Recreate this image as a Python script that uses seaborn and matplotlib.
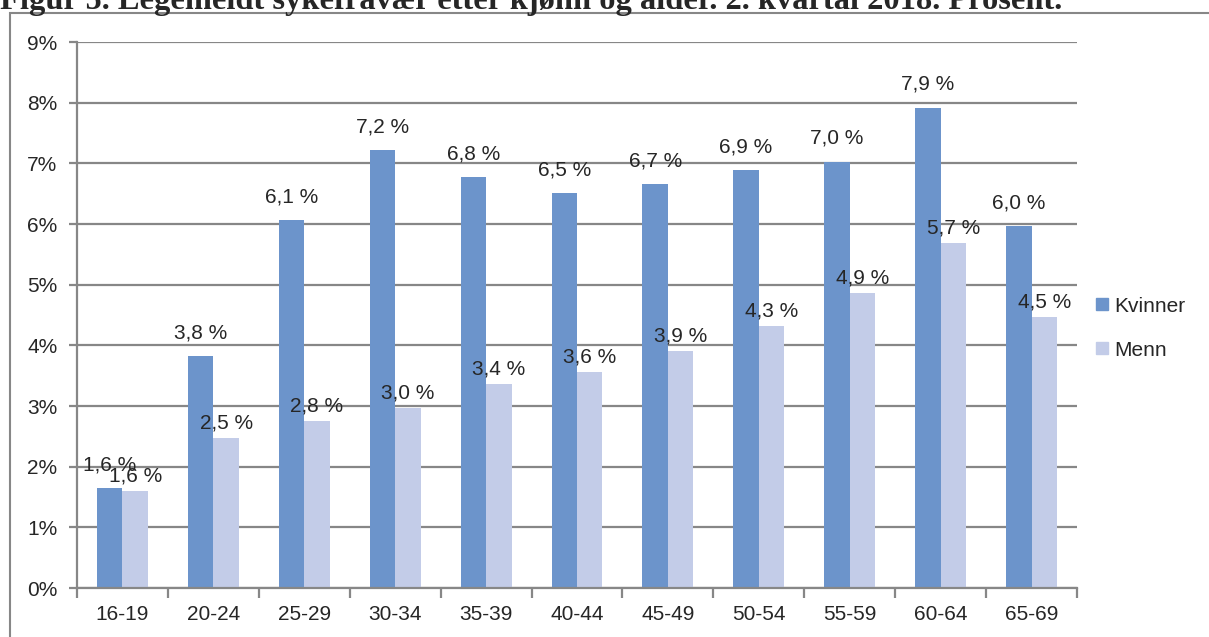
import numpy as np
import pandas as pd
import seaborn as sns
import matplotlib.pyplot as plt
from matplotlib.patches import Rectangle, Patch
from matplotlib.ticker import FixedLocator

alder = ["16-19", "20-24", "25-29", "30-34", "35-39", "40-44",
         "45-49", "50-54", "55-59", "60-64", "65-69"]
kvinner = [1.65, 3.82, 6.06, 7.22, 6.77, 6.51, 6.66, 6.89, 7.03, 7.92, 5.96]
menn = [1.60, 2.47, 2.76, 2.97, 3.36, 3.56, 3.91, 4.32, 4.86, 5.68, 4.46]
kvinner_lbl = ["1,6 %", "3,8 %", "6,1 %", "7,2 %", "6,8 %", "6,5 %",
               "6,7 %", "6,9 %", "7,0 %", "7,9 %", "6,0 %"]
menn_lbl = ["1,6 %", "2,5 %", "2,8 %", "3,0 %", "3,4 %", "3,6 %",
            "3,9 %", "4,3 %", "4,9 %", "5,7 %", "4,5 %"]

df = pd.DataFrame({"alder": alder * 2,
                   "verdi": kvinner + menn,
                   "kjonn": ["Kvinner"] * len(alder) + ["Menn"] * len(alder)})

sns.set_style("white")
plt.rcParams["font.family"] = ["Liberation Sans", "DejaVu Sans"]

farger = {"Kvinner": "#6C94CB", "Menn": "#C3CCE8"}
grid_col = "#878787"
fs = 15

fig = plt.figure(figsize=(12.09, 6.37), dpi=100)
ax = fig.add_axes([77 / 1209, 1 - 588 / 637, 1000 / 1209, 546 / 637])

sns.barplot(data=df, x="alder", y="verdi", hue="kjonn", palette=farger,
            width=0.56, saturation=1, linewidth=0, ax=ax, legend=False)

ax.set_ylim(0, 9)
ax.set_xlim(-0.5, len(alder) - 0.5)
ax.set_yticks(range(10))
ax.set_yticklabels([f"{i}%" for i in range(10)], fontsize=fs)
ax.yaxis.grid(True, color=grid_col, linewidth=1.6)
ax.set_axisbelow(True)
ax.set_xlabel("")
ax.set_ylabel("")
ax.tick_params(axis="x", length=0, labelsize=fs, pad=12)
ax.tick_params(axis="y", length=6, width=1.6, color=grid_col, pad=8, left=True)
ax.xaxis.set_minor_locator(FixedLocator(np.arange(-0.5, len(alder), 1)))
ax.tick_params(axis="x", which="minor", length=7, width=1.6, color=grid_col,
               bottom=True, direction="out")
for s in ["top", "right"]:
    ax.spines[s].set_visible(False)
for s in ["left", "bottom"]:
    ax.spines[s].set_color(grid_col)
    ax.spines[s].set_linewidth(1.6)

# verdietiketter
for bar_container, lbls, dy in zip(ax.containers, [kvinner_lbl, menn_lbl], [10, 4]):
    for rect, lbl in zip(bar_container, lbls):
        ax.annotate(lbl, (rect.get_x() + rect.get_width() / 2, rect.get_height()),
                    xytext=(0, dy), textcoords="offset points",
                    ha="center", va="bottom", fontsize=fs)

handles = [Patch(color=farger[k], label=k) for k in ["Kvinner", "Menn"]]
fig.legend(handles=handles, loc="center left", bbox_to_anchor=(1086 / 1209, 1 - 328 / 637),
           frameon=False, fontsize=fs, handlelength=0.55, handleheight=0.55,
           handletextpad=0.3, labelspacing=1.2, borderpad=0)

fig.patches.append(Rectangle((10 / 1209, -0.01), 1.0, (637 - 13) / 637 + 0.01,
                             transform=fig.transFigure, fill=False,
                             edgecolor=grid_col, linewidth=1.5))

fig.text(0.0, 1 - 9 / 637, "Figur 5. Legemeldt sykefravær etter kjønn og alder. 2. kvartal 2018. Prosent.",
         family=["Liberation Serif", "DejaVu Serif"], fontweight="bold",
         fontsize=23.4, ha="left", va="baseline")

fig.savefig("out.png", dpi=100)
